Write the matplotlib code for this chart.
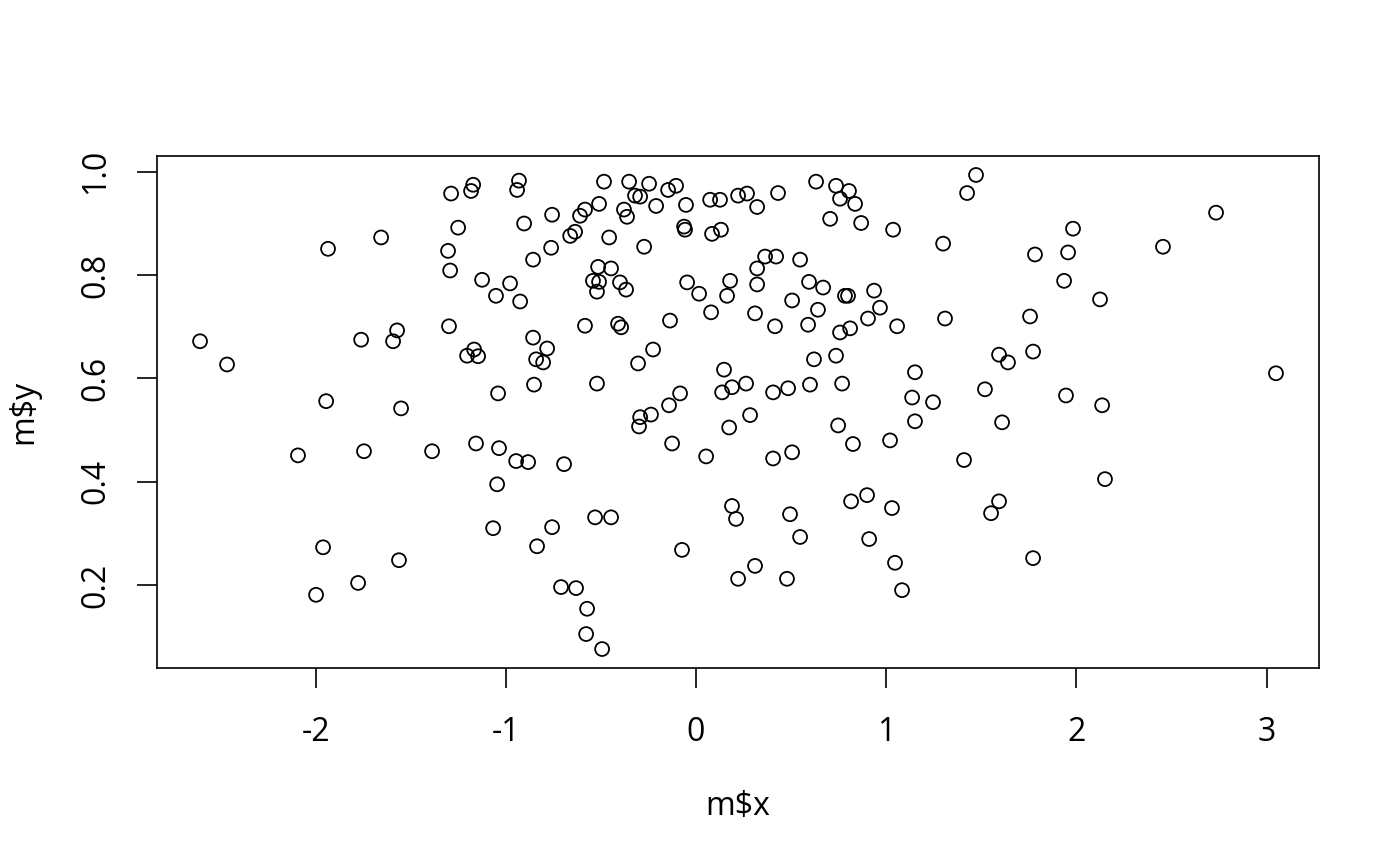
import matplotlib
matplotlib.use("Agg")
import matplotlib.pyplot as plt
import numpy as np

plt.rcParams['font.family'] = ['Open Sans', 'DejaVu Sans']
plt.rcParams['axes.unicode_minus'] = False

m_x = [-2.608, -2.466, -1.935, -1.656, -1.761, -1.572, -1.593, -1.945, -1.551, -2.093,
       -1.746, -1.388, -1.961, -1.562, -1.777, -1.998, -1.304, -1.293, -1.299, -1.288,
       -1.251, -1.172, -1.183, -0.931, -0.941, -0.484, -0.352, -0.247, -0.321, -0.294,
       -0.147, -0.105, -0.210, -0.053, 0.074, 0.126, 0.221, 0.268, 0.321, -0.904,
       -0.757, -0.610, -0.584, -0.510, -0.379, -0.363, -0.662, -0.636, -0.457, -0.063,
       -0.058, 0.084, 0.131, -0.762, -0.273, -0.857, -0.515, -0.447, -0.542, -0.510,
       -0.521, -0.400, -0.368, -1.125, -0.978, -1.052, -0.925, -0.047, 0.016, 0.179,
       0.163, 0.321, 0.321, 0.079, -0.137, -0.584, -0.410, -0.394, 0.310, -0.857,
       -0.783, -0.841, -0.804, -1.167, -1.204, -1.146, -0.226, -0.305, 0.147, 0.263,
       0.189, 0.137, -0.852, -0.521, -1.041, -0.084, -0.142, -0.294, -0.300, -0.237,
       0.284, 0.174, -0.126, 0.053, -1.157, -1.036, -0.946, -0.883, -0.694, -1.046,
       0.189, 0.210, -0.531, -0.447, -1.067, -0.757, -0.836, -0.074, 0.221, 0.310,
       -0.710, -0.631, -0.573, -0.578, -0.494, 0.431, 0.631, 0.736, 0.804, 0.757,
       0.836, 0.705, 0.868, 1.036, 1.472, 1.425, 1.299, 1.782, 0.363, 0.421,
       0.547, 0.594, 0.668, 0.783, 0.799, 0.936, 0.505, 0.641, 0.967, 0.904,
       0.415, 0.589, 0.757, 0.810, 1.057, 1.309, 1.756, 0.620, 0.736, 1.593,
       1.640, 1.772, 1.151, 0.405, 0.484, 0.599, 0.768, 1.136, 1.246, 1.519,
       0.747, 1.151, 1.609, 0.825, 1.020, 1.409, 0.405, 0.505, 0.815, 0.899,
       1.030, 1.593, 1.551, 0.494, 0.547, 0.910, 0.478, 1.046, 1.083, 1.772,
       1.982, 1.956, 1.935, 2.124, 2.455, 2.734, 3.049, 1.945, 2.135, 2.150]

m_y = [0.672, 0.627, 0.851, 0.873, 0.675, 0.693, 0.672, 0.556, 0.542, 0.451,
       0.459, 0.459, 0.273, 0.248, 0.204, 0.181, 0.847, 0.809, 0.701, 0.958,
       0.892, 0.975, 0.963, 0.983, 0.965, 0.981, 0.981, 0.977, 0.954, 0.952,
       0.965, 0.973, 0.934, 0.936, 0.946, 0.946, 0.954, 0.958, 0.932, 0.900,
       0.917, 0.915, 0.927, 0.938, 0.927, 0.913, 0.876, 0.884, 0.873, 0.894,
       0.888, 0.880, 0.888, 0.853, 0.855, 0.830, 0.816, 0.813, 0.789, 0.787,
       0.768, 0.786, 0.772, 0.791, 0.784, 0.760, 0.749, 0.786, 0.764, 0.789,
       0.760, 0.813, 0.782, 0.728, 0.712, 0.702, 0.706, 0.699, 0.726, 0.679,
       0.658, 0.637, 0.631, 0.656, 0.644, 0.643, 0.656, 0.629, 0.617, 0.590,
       0.583, 0.573, 0.588, 0.590, 0.571, 0.571, 0.548, 0.525, 0.507, 0.530,
       0.529, 0.505, 0.474, 0.449, 0.474, 0.465, 0.440, 0.438, 0.434, 0.395,
       0.353, 0.328, 0.331, 0.331, 0.310, 0.312, 0.275, 0.268, 0.212, 0.237,
       0.196, 0.194, 0.154, 0.105, 0.076, 0.959, 0.981, 0.973, 0.963, 0.948,
       0.938, 0.909, 0.901, 0.888, 0.994, 0.959, 0.861, 0.840, 0.836, 0.836,
       0.830, 0.787, 0.776, 0.760, 0.760, 0.770, 0.751, 0.733, 0.737, 0.716,
       0.701, 0.704, 0.689, 0.697, 0.701, 0.716, 0.720, 0.637, 0.644, 0.646,
       0.631, 0.652, 0.612, 0.573, 0.581, 0.588, 0.590, 0.563, 0.554, 0.579,
       0.509, 0.517, 0.515, 0.473, 0.480, 0.442, 0.445, 0.457, 0.362, 0.374,
       0.349, 0.362, 0.339, 0.337, 0.293, 0.289, 0.212, 0.243, 0.190, 0.252,
       0.890, 0.844, 0.789, 0.753, 0.855, 0.921, 0.610, 0.567, 0.548, 0.405]

x_ticks = [-2, -1, 0, 1, 2, 3]
y_ticks = [0.2, 0.4, 0.6, 0.8, 1.0]
y_tick_labels = ["0.2", "0.4", "0.6", "0.8", "1.0"]

x = np.array(m_x)
y = np.array(m_y)

fig = plt.figure(figsize=(14, 8.66), dpi=100)
ax = fig.add_axes([157/1400, 1 - 668/866, (1319-157)/1400, (668-156)/866])

ax.scatter(x, y, s=100, facecolors='none', edgecolors='black', linewidths=1.3, zorder=3)

xr = x.max() - x.min()
yr = y.max() - y.min()
ax.set_xlim(x.min() - 0.04*xr, x.max() + 0.04*xr)
ax.set_ylim(y.min() - 0.04*yr, y.max() + 0.04*yr)

ax.set_xticks(x_ticks)
ax.set_xticklabels([str(v) for v in x_ticks])
ax.set_yticks(y_ticks)
ax.set_yticklabels(y_tick_labels, rotation=90, va='center')

ax.tick_params(axis='both', direction='out', length=14.4, width=1.2, labelsize=23, color='black')
ax.tick_params(axis='x', pad=20)
ax.tick_params(axis='y', pad=18)
for sp in ax.spines.values():
    sp.set_linewidth(1.2)
    sp.set_color('black')

ax.set_xlabel("m$x", fontsize=23, labelpad=30)
ax.set_ylabel("m$y", fontsize=23, labelpad=28)

fig.savefig("out.png", dpi=100)
